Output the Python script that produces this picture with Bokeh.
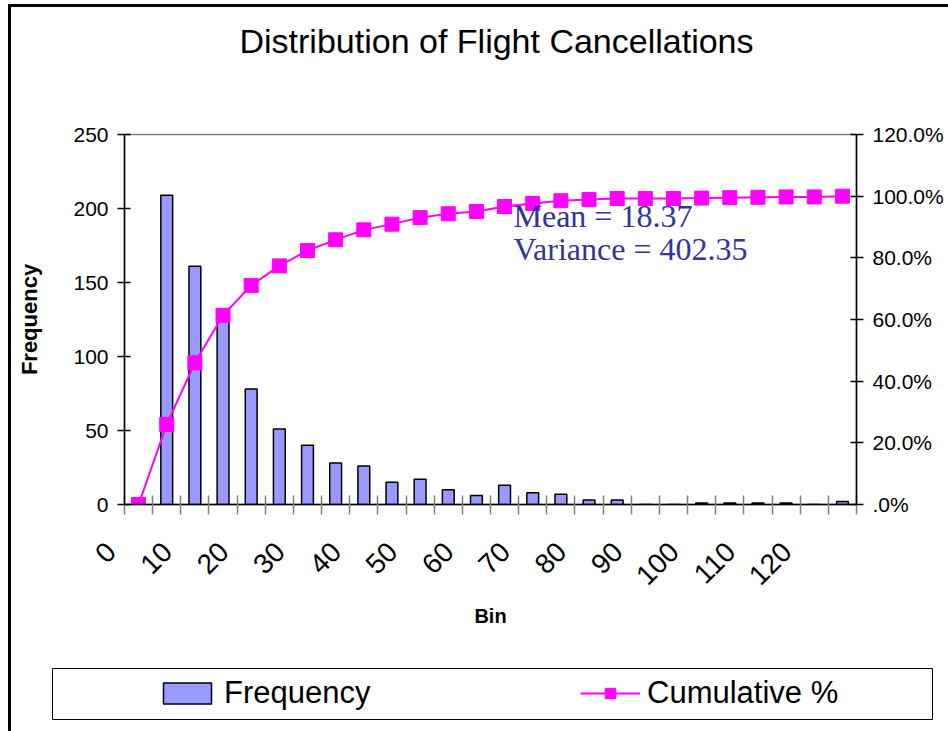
import math

from bokeh.embed import file_html
from bokeh.layouts import column
from bokeh.models import (FixedTicker, Label, Legend, LegendItem, LinearAxis,
                          Range1d)
from bokeh.plotting import figure
from bokeh.resources import INLINE

# Histogram bins (upper edges, minutes) and counts of cancellations per bin
bins = ["0", "5", "10", "15", "20", "25", "30", "35", "40", "45", "50", "55", "60",
        "65", "70", "75", "80", "85", "90", "95", "100", "105", "110", "115", "120", "More"]
frequency = [0, 209, 161, 124, 78, 51, 40, 28, 26, 15, 17, 10, 6,
             13, 8, 7, 3, 3, 0, 0, 1, 1, 1, 1, 0, 2]
cumulative_pct = [0.00, 25.96, 45.96, 61.37, 71.06, 77.39, 82.36, 85.84, 89.07, 90.93,
                  93.04, 94.29, 95.03, 96.65, 97.64, 98.51, 98.88, 99.25, 99.25, 99.25,
                  99.38, 99.50, 99.63, 99.75, 99.75, 100.00]

freq_ticks = [0, 50, 100, 150, 200, 250]
pct_ticks = [0, 20, 40, 60, 80, 100, 120]
pct_tick_labels = [".0%", "20.0%", "40.0%", "60.0%", "80.0%", "100.0%", "120.0%"]

chart_title = "Distribution of Flight Cancellations"
stats_lines = ["Mean = 18.37", "Variance = 402.35"]

SANS = "Liberation Sans"
SERIF = "Liberation Serif"
BAR_FILL = "#9999FF"
CUM_COLOR = "#FF00FF"
STATS_COLOR = "#333399"
NBSP = "\u00a0"
NAN = float("nan")

n = len(bins)
xs = list(range(n))


def strip(height, **borders):
    """A plain panel without axes, used for the title and legend rows."""
    f = figure(width=937, height=height, output_backend="svg", toolbar_location=None,
               x_range=Range1d(0, 1), y_range=Range1d(0, 1),
               x_axis_location=None, y_axis_location=None,
               background_fill_color="white", border_fill_color="white",
               frame_align=False, **borders)
    f.xgrid.visible = False
    f.ygrid.visible = False
    return f


# ---- title row ----------------------------------------------------------------
head = strip(80, min_border_left=0, min_border_right=0, min_border_top=0, min_border_bottom=0)
head.outline_line_color = None
head.add_layout(Label(x=485, y=47, x_units="screen", y_units="screen", text=chart_title,
                      text_align="center", text_baseline="middle",
                      text_font=SANS, text_font_size="34px", text_color="black"))

# ---- main chart -------------------------------------------------------------
p = figure(width=937, height=563, output_backend="svg", toolbar_location=None,
           x_range=Range1d(-0.5, n - 0.5), y_range=Range1d(0, 250),
           min_border_left=113, min_border_right=92,
           min_border_top=47, min_border_bottom=146,
           background_fill_color="white", border_fill_color="white",
           frame_align=False)
p.extra_y_ranges = {"pct": Range1d(0, 120)}
p.xgrid.visible = False
p.ygrid.visible = False
p.outline_line_color = "#808080"
p.outline_line_width = 1.5

# Frequency bars
bars = p.vbar(x=xs, top=frequency, width=0.42, bottom=0,
              fill_color=BAR_FILL, line_color="black", line_width=1.5)

# Cumulative percentage on the secondary axis
cum_line = p.line(xs, cumulative_pct, y_range_name="pct",
                  line_color=CUM_COLOR, line_width=2)
cum_pts = p.scatter(xs, cumulative_pct, y_range_name="pct", marker="square",
                    size=14, fill_color=CUM_COLOR, line_color=CUM_COLOR)

# Bin axis: labels on every other bin, tick marks on bin boundaries
label_idx = list(range(0, n - 1, 2))
xaxis = p.xaxis[0]
xaxis.ticker = FixedTicker(ticks=label_idx, minor_ticks=[i - 0.5 for i in range(n + 1)])
xaxis.major_label_overrides = {i: bins[i] + NBSP * 5 for i in label_idx}
xaxis.major_label_orientation = math.pi / 4
xaxis.major_tick_in = 0
xaxis.major_tick_out = 0
xaxis.minor_tick_in = 9
xaxis.minor_tick_out = 10
xaxis.minor_tick_line_color = "#808080"
xaxis.minor_tick_line_width = 1.5
xaxis.axis_line_color = "black"
xaxis.axis_line_width = 1.5
xaxis.major_label_standoff = 5
xaxis.major_label_text_font = SANS
xaxis.major_label_text_font_size = "28px"
xaxis.major_label_text_color = "black"
xaxis.axis_label = "Bin"
xaxis.axis_label_text_font = SANS
xaxis.axis_label_text_font_size = "20px"
xaxis.axis_label_text_font_style = "bold"
xaxis.axis_label_text_color = "black"
xaxis.axis_label_standoff = 0

# Frequency axis
yaxis = p.yaxis[0]
yaxis.ticker = FixedTicker(ticks=freq_ticks)
yaxis.major_tick_in = 6
yaxis.major_tick_out = 7
yaxis.minor_tick_line_color = None
yaxis.axis_line_color = "black"
yaxis.axis_line_width = 1.5
yaxis.major_tick_line_width = 1.5
yaxis.major_label_standoff = 9
yaxis.major_label_text_font = SANS
yaxis.major_label_text_font_size = "21px"
yaxis.major_label_text_color = "black"
yaxis.axis_label = "Frequency"
yaxis.axis_label_text_font = SANS
yaxis.axis_label_text_font_size = "22px"
yaxis.axis_label_text_font_style = "bold"
yaxis.axis_label_text_color = "black"
yaxis.axis_label_standoff = 28

# Cumulative % axis
raxis = LinearAxis(y_range_name="pct", ticker=FixedTicker(ticks=pct_ticks),
                   major_label_overrides=dict(zip(pct_ticks, pct_tick_labels)))
raxis.major_tick_in = 6
raxis.major_tick_out = 7
raxis.minor_tick_line_color = None
raxis.axis_line_color = "black"
raxis.axis_line_width = 1.5
raxis.major_tick_line_width = 1.5
raxis.major_label_standoff = 9
raxis.major_label_text_font = SANS
raxis.major_label_text_font_size = "21px"
raxis.major_label_text_color = "black"
p.add_layout(raxis, "right")

# Summary statistics
for text, y in zip(stats_lines, [289, 256]):
    p.add_layout(Label(x=389, y=y, x_units="screen", y_units="screen", text=text,
                       text_align="left", text_baseline="alphabetic",
                       text_font=SERIF, text_font_size="32px",
                       text_color=STATS_COLOR))

# ---- legend row ---------------------------------------------------------------
leg = strip(81, min_border_left=41, min_border_right=16, min_border_top=18, min_border_bottom=12)
leg.outline_line_color = "black"
leg.outline_line_width = 1

# swatch renderers carrying the series styles (no visible data of their own)
sw_bar = leg.vbar(x=[NAN], top=[NAN], width=0.4, fill_color=BAR_FILL,
                  line_color="black", line_width=1.5)
sw_line = leg.line(x=[NAN], y=[NAN], line_color=CUM_COLOR, line_width=2)
sw_pts = leg.scatter(x=[NAN], y=[NAN], marker="square", size=14,
                     fill_color=CUM_COLOR, line_color=CUM_COLOR)

legend = Legend(items=[LegendItem(label="Frequency", renderers=[sw_bar]),
                       LegendItem(label="Cumulative %", renderers=[sw_line, sw_pts])],
                orientation="horizontal", location=(105, 8),
                padding=0, margin=0, spacing=206, label_width=150,
                glyph_width=60, glyph_height=26, label_standoff=7,
                label_text_font=SANS, label_text_font_size="31px",
                label_text_color="black",
                border_line_alpha=0, background_fill_alpha=0)
leg.add_layout(legend)

layout = column(head, p, leg, spacing=0, margin=(4, 0, 0, 8),
                styles={"border-left": "3px solid black", "border-top": "3px solid black"})

open("out.html", "w").write(file_html(layout, INLINE))
